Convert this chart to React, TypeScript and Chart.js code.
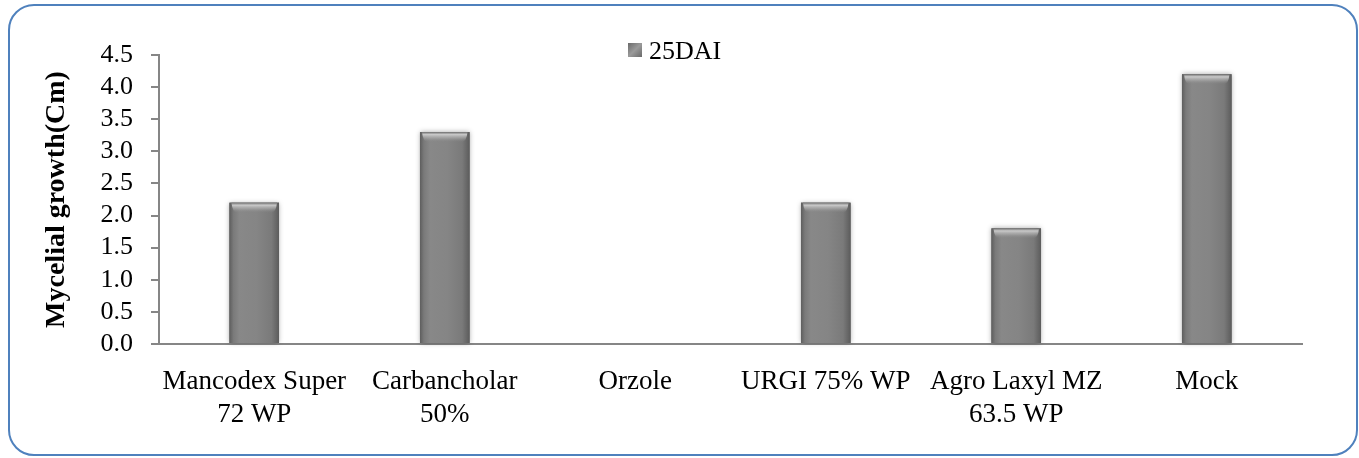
import React, { useEffect, useRef } from "react";
import { Chart, registerables } from "chart.js";

Chart.register(...registerables);

const categories: string[][] = [
  ["Mancodex Super", "72 WP"],
  ["Carbancholar", "50%"],
  ["Orzole"],
  ["URGI 75% WP"],
  ["Agro Laxyl MZ", "63.5 WP"],
  ["Mock"],
];
const seriesLabel = "25DAI";
const values = [2.2, 3.3, 0, 2.2, 1.8, 4.2];
const yMin = 0;
const yMax = 4.5;
const yStep = 0.5;
const yTitle = "Mycelial growth(Cm)";

const FONT = "'Liberation Serif', 'DejaVu Serif', serif";
const AXIS = "#868686";

const barShade = {
  id: "barShade",
  afterDatasetsDraw(chart: any) {
    const ctx = chart.ctx;
    const meta = chart.getDatasetMeta(0);
    meta.data.forEach((el: any) => {
      const { x, y, base, width } = el.getProps(["x", "y", "base", "width"], true);
      const h = base - y;
      if (h < 1) return;
      const l = x - width / 2;
      const r = x + width / 2;
      ctx.save();
      ctx.shadowColor = "rgba(0,0,0,0.35)";
      ctx.shadowBlur = 5;
      ctx.fillStyle = "#7f7f7f";
      ctx.fillRect(l, y, width, h);
      ctx.restore();
      ctx.save();
      const g = ctx.createLinearGradient(l, 0, r, 0);
      g.addColorStop(0, "#5e5e5e");
      g.addColorStop(0.08, "#7a7a7a");
      g.addColorStop(0.2, "#888888");
      g.addColorStop(0.55, "#858585");
      g.addColorStop(0.85, "#7a7a7a");
      g.addColorStop(1, "#5c5c5c");
      ctx.fillStyle = g;
      ctx.fillRect(l, y, width, h);
      const th = Math.min(10, h);
      const vg = ctx.createLinearGradient(0, y, 0, y + th);
      vg.addColorStop(0, "rgba(110,110,110,1)");
      vg.addColorStop(0.25, "rgba(205,205,205,0.95)");
      vg.addColorStop(0.6, "rgba(175,175,175,0.6)");
      vg.addColorStop(1, "rgba(136,136,136,0)");
      ctx.fillStyle = vg;
      ctx.beginPath();
      ctx.moveTo(l + 2, y);
      ctx.lineTo(r - 2, y);
      ctx.quadraticCurveTo(r - 3, y + th, r - 8, y + th);
      ctx.lineTo(l + 8, y + th);
      ctx.quadraticCurveTo(l + 3, y + th, l + 2, y);
      ctx.closePath();
      ctx.fill();
      ctx.restore();
    });
  },
};

const legendPlugin = {
  id: "customLegend",
  afterDraw(chart: any) {
    const ctx = chart.ctx;
    const label = chart.data.datasets[0].label;
    ctx.save();
    const bx = 628, by = 43, bs = 14;
    const g = ctx.createLinearGradient(bx, by, bx + bs, by + bs);
    g.addColorStop(0, "#6a6a6a");
    g.addColorStop(0.5, "#9a9a9a");
    g.addColorStop(1, "#6a6a6a");
    ctx.fillStyle = g;
    ctx.fillRect(bx, by, bs, bs);
    ctx.fillStyle = "#000";
    ctx.font = `26px ${FONT}`;
    ctx.textBaseline = "alphabetic";
    ctx.textAlign = "left";
    ctx.fillText(label, 649, 59);
    ctx.restore();
  },
};

export default function App() {
  const ref = useRef<HTMLCanvasElement | null>(null);
  useEffect(() => {
    if (!ref.current) return;
    const chart = new Chart(ref.current, {
      type: "bar",
      data: {
        labels: categories,
        datasets: [
          {
            label: seriesLabel,
            data: values,
            backgroundColor: "#808080",
            borderWidth: 0,
            categoryPercentage: 1,
            barPercentage: 0.26,
          },
        ],
      },
      options: {
        responsive: false,
        animation: false,
        layout: { padding: { left: 0, right: 57, top: 55, bottom: 0 } },
        plugins: {
          legend: { display: false },
          tooltip: { enabled: false },
        },
        scales: {
          x: {
            grid: { display: false },
            border: { display: true, color: AXIS, width: 2 },
            ticks: {
              color: "#000",
              font: { family: FONT, size: 27 },
              padding: 14,
              maxRotation: 0,
              autoSkip: false,
            },
            afterFit(scale: any) {
              scale.height = 114;
            },
          },
          y: {
            min: yMin,
            max: yMax,
            grid: {
              drawOnChartArea: false,
              drawTicks: true,
              tickLength: 8,
              color: AXIS,
              lineWidth: 2,
            },
            border: { display: true, color: AXIS, width: 2 },
            ticks: {
              stepSize: yStep,
              autoSkip: false,
              color: "#000",
              font: { family: FONT, size: 26 },
              padding: 18,
              callback: (v: any) => Number(v).toFixed(1),
            },
            title: {
              display: true,
              text: yTitle,
              color: "#000",
              font: { family: FONT, size: 28, weight: "bold" },
              padding: { top: 40, bottom: 0 },
            },
            afterFit(scale: any) {
              scale.width = 159;
            },
          },
        },
      },
      plugins: [barShade, legendPlugin],
    });
    return () => chart.destroy();
  }, []);

  return (
    <div style={{ position: "fixed", left: 0, top: 0, width: 1359, height: 458, background: "#fff" }}>
      <div
        style={{
          position: "absolute",
          left: 8,
          top: 4,
          width: 1350,
          height: 452,
          boxSizing: "border-box",
          border: "2px solid #4f81bd",
          borderRadius: 26,
        }}
      />
      <canvas ref={ref} width={1359} height={458} style={{ position: "absolute", left: 0, top: 0 }} />
    </div>
  );
}
